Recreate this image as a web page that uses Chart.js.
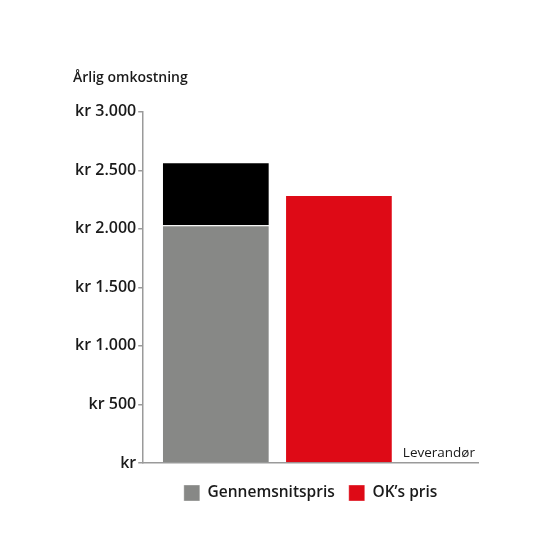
<!DOCTYPE html>
<html>
<head>
<meta charset="utf-8">
<script src="https://cdn.jsdelivr.net/npm/chart.js@4"></script>
<style>
  body { margin: 0; background: #fff; }
  #wrap { width: 560px; height: 560px; }
</style>
</head>
<body>
<div id="wrap"><canvas id="myChart"></canvas></div>
<script>
// values
var positions = [1, 2];
var avgPrice = [2030, null];
var avgExtra = [540, null];
var okPrice = [null, 2290];
var seriesNames = ["Gennemsnitspris", "", "OK\u2019s pris"];
var yTicks = [0, 500, 1000, 1500, 2000, 2500, 3000];
var yTitle = "\u00c5rlig omkostning";
var xTitle = "Leverand\u00f8r";

function points(values) {
  var out = [];
  for (var i = 0; i < positions.length; i++) {
    if (values[i] !== null) out.push({ x: positions[i], y: values[i] });
  }
  return out;
}

function krFormat(v) {
  if (v === 0) return "kr";
  return "kr " + v.toLocaleString("da-DK");
}

// draws the x axis name at the right end, above the axis line
var xTitlePlugin = {
  id: "xTitle",
  afterDraw: function (chart) {
    var ctx = chart.ctx;
    var area = chart.chartArea;
    ctx.save();
    ctx.font = "500 13.5px 'Open Sans'";
    ctx.fillStyle = "#1a1a1a";
    ctx.textAlign = "right";
    ctx.textBaseline = "bottom";
    ctx.fillText(xTitle, area.right - 3, area.bottom - 3);
    ctx.restore();
  }
};

Chart.defaults.font.family = "'Open Sans'";
Chart.defaults.color = "#1a1a1a";

new Chart("myChart", {
  type: "bar",
  data: {
    datasets: [{
      label: seriesNames[0],
      data: points(avgPrice),
      backgroundColor: "#878886",
      borderColor: "rgba(255,255,255,0.35)",
      borderWidth: 1,
      stack: "one"
    }, {
      label: seriesNames[1],
      data: points(avgExtra),
      backgroundColor: "#000000",
      borderColor: "rgba(255,255,255,0.35)",
      borderWidth: 1,
      stack: "one"
    }, {
      label: seriesNames[2],
      data: points(okPrice),
      backgroundColor: "#de0a16",
      borderColor: "rgba(255,255,255,0.35)",
      borderWidth: 1,
      stack: "one"
    }]
  },
  options: {
    responsive: true,
    maintainAspectRatio: false,
    animation: false,
    categoryPercentage: 0.875,
    barPercentage: 1,
    layout: { padding: { left: 73, right: 82, top: 70, bottom: 49 } },
    plugins: {
      title: {
        display: true,
        text: yTitle,
        align: "start",
        font: { size: 14, weight: "600" },
        color: "#1a1a1a",
        padding: { top: 0, bottom: 25 }
      },
      legend: {
        position: "bottom",
        fullSize: false,
        labels: {
          filter: function (item) { return item.text !== ""; },
          boxWidth: 16,
          boxHeight: 16,
          padding: 14,
          font: { size: 15.5, weight: "600" },
          color: "#1a1a1a"
        }
      },
      tooltip: { enabled: false }
    },
    scales: {
      x: {
        type: "linear",
        min: 0.41,
        max: 3.13,
        offset: false,
        stacked: true,
        afterBuildTicks: function (axis) {
          axis.ticks = positions.map(function (v) { return { value: v }; });
        },
        grid: { display: false },
        border: { display: true, color: "#9a9a9a", width: 1.5 },
        ticks: { display: false }
      },
      y: {
        stacked: true,
        min: 0,
        max: 3000,
        afterBuildTicks: function (axis) {
          axis.ticks = yTicks.map(function (v) { return { value: v }; });
        },
        grid: {
          drawOnChartArea: false,
          drawTicks: true,
          tickLength: 5,
          color: "#9a9a9a",
          lineWidth: 1.5
        },
        border: { display: true, color: "#9a9a9a", width: 1.5 },
        ticks: {
          padding: 2,
          font: { size: 16, weight: "600" },
          color: "#1a1a1a",
          callback: function (v) { return krFormat(v); }
        }
      }
    }
  },
  plugins: [xTitlePlugin]
});
</script>
</body>
</html>
